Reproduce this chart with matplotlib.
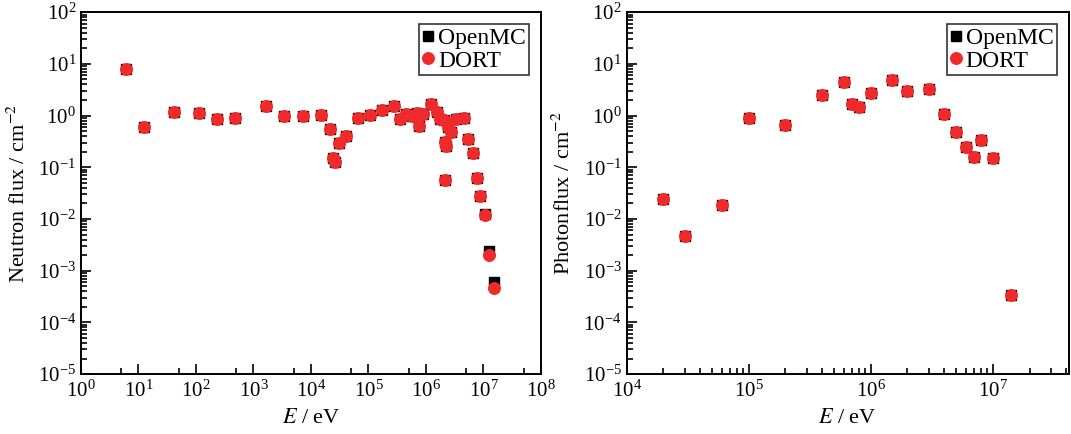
import numpy as np
import matplotlib
matplotlib.use("Agg")
import matplotlib.pyplot as plt
from matplotlib.ticker import FixedLocator, NullFormatter

plt.rcParams['font.family'] = ['Liberation Serif', 'DejaVu Serif']
plt.rcParams['mathtext.fontset'] = 'stix'

# neutron spectrum (energy in eV, flux per cm^2)
n_energy = [6.0, 12.3, 42, 111, 232, 483, 1670, 3430, 7250, 14900,
            21700, 24500, 26000, 31000, 40000, 66000, 107000, 173000, 277000, 355000,
            457000, 562000, 692000, 760000, 891000, 1.24e6, 1.53e6, 1.75e6, 2.08e6, 2.14e6,
            2.23e6, 2.14e6, 2.45e6, 2.7e6, 3.3e6, 4.5e6, 5.4e6, 6.65e6, 7.6e6, 8.8e6,
            1.07e7, 1.23e7, 1.55e7]
n_dort = [7.8, 0.605, 1.18, 1.1, 0.85, 0.9, 1.54, 0.96, 0.99, 1.02,
          0.546, 0.148, 0.127, 0.297, 0.40, 0.88, 1.02, 1.26, 1.54, 0.85,
          1.05, 0.99, 1.12, 0.63, 1.05, 1.64, 1.18, 0.85, 0.81, 0.31,
          0.26, 0.056, 0.60, 0.48, 0.85, 0.88, 0.35, 0.185, 0.062, 0.028,
          0.0117, 0.0020, 0.00047]
n_openmc = [7.8, 0.605, 1.18, 1.1, 0.85, 0.9, 1.54, 0.96, 0.99, 1.02,
            0.546, 0.148, 0.127, 0.297, 0.40, 0.88, 1.02, 1.26, 1.54, 0.85,
            1.05, 0.99, 1.12, 0.63, 1.05, 1.64, 1.18, 0.85, 0.81, 0.31,
            0.26, 0.056, 0.60, 0.48, 0.85, 0.88, 0.35, 0.19, 0.062, 0.028,
            0.0126, 0.0024, 0.00060]

# photon spectrum
p_energy = [2e4, 3e4, 6e4, 1e5, 2e5, 4e5, 6e5, 7e5, 8e5, 1e6,
            1.5e6, 2e6, 3e6, 4e6, 5e6, 6e6, 7e6, 8e6, 1e7, 1.4e7]
p_dort = [0.024, 0.0047, 0.0188, 0.90, 0.66, 2.47, 4.4, 1.68, 1.49, 2.77,
          4.79, 2.98, 3.27, 1.09, 0.476, 0.25, 0.16, 0.343, 0.15, 0.00034]
p_openmc = [0.024, 0.0047, 0.0188, 0.90, 0.66, 2.47, 4.4, 1.68, 1.49, 2.77,
            4.79, 2.98, 3.27, 1.09, 0.476, 0.25, 0.155, 0.343, 0.15, 0.00034]

red = '#EE2A2A'
fs = 15


def decades(lo, hi, subs):
    # tick positions inside the visible range only
    out = []
    for d in range(int(np.floor(np.log10(lo))), int(np.ceil(np.log10(hi))) + 1):
        for s in subs:
            v = s * 10.0 ** d
            if lo <= v <= hi:
                out.append(v)
    return out


def style(ax, xlim, xminor):
    ax.set_xscale('log')
    ax.set_yscale('log')
    ax.set_xlim(*xlim)
    ax.set_ylim(1e-5, 1e2)
    ax.xaxis.set_major_locator(FixedLocator(decades(xlim[0], xlim[1], [1])))
    ax.xaxis.set_minor_locator(FixedLocator(decades(xlim[0], xlim[1], xminor)))
    ax.xaxis.set_minor_formatter(NullFormatter())
    ax.yaxis.set_major_locator(FixedLocator(decades(1e-5, 1e2, [1])))
    ax.yaxis.set_minor_locator(FixedLocator(decades(1e-5, 1e2, range(2, 10))))
    ax.yaxis.set_minor_formatter(NullFormatter())
    ax.tick_params(which='both', direction='in', top=False, right=False,
                   labelsize=fs, width=1.2)
    ax.tick_params(which='major', length=7)
    ax.tick_params(which='minor', length=4)
    ax.tick_params(axis='x', pad=5)
    for s in ax.spines.values():
        s.set_linewidth(1.4)


def draw(ax, e, om, dort):
    ax.plot(e, om, 's', color='black', ms=7.5, ls='none', label='OpenMC')
    ax.plot(e, dort, 'o', color=red, ms=8.3, ls='none', label='DORT')
    leg = ax.legend(loc='upper right', fontsize=17, frameon=True, fancybox=False,
                    edgecolor='black', handlelength=0.5, handletextpad=0.15,
                    borderpad=0.15, labelspacing=0.05, borderaxespad=0.5)
    leg.get_frame().set_linewidth(1.2)


fig = plt.figure(figsize=(10.71, 4.34), dpi=100)
ax1 = fig.add_axes([0.0756, 0.138, 0.4295, 0.834])
ax2 = fig.add_axes([0.585, 0.138, 0.413, 0.834])

draw(ax1, n_energy, n_openmc, n_dort)
style(ax1, (1, 1e8), [5])
ax1.set_xlabel('$E$ / eV', fontsize=16, labelpad=5)
ax1.set_ylabel('Neutron flux / cm$^{-2}$', fontsize=16, labelpad=6)

draw(ax2, p_energy, p_openmc, p_dort)
style(ax2, (1e4, 4.2e7), range(2, 10))
ax2.set_xlabel('$E$ / eV', fontsize=16, labelpad=5)
ax2.set_ylabel('Photonflux / cm$^{-2}$', fontsize=16, labelpad=6)

fig.savefig('out.png', dpi=100)
